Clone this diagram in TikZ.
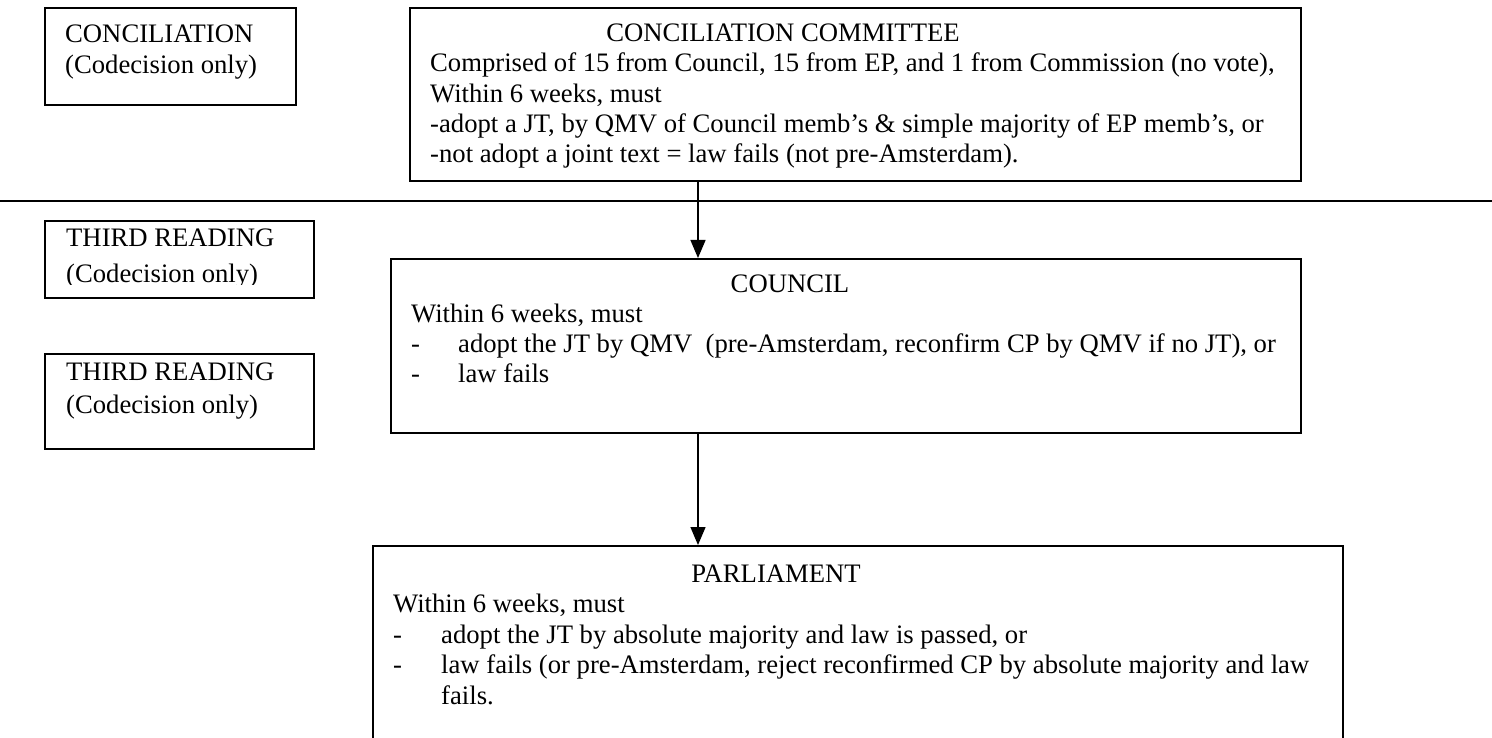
\documentclass[tikz,border=0pt]{standalone}
\usepackage{fontspec}
\setmainfont{Liberation Serif}
\usetikzlibrary{arrows.meta}
\begin{document}
\begin{tikzpicture}[x=1pt,y=-1pt,
  box/.style={draw=black, line width=1.6pt, inner sep=0pt, anchor=north west},
  txt/.style={anchor=base west, inner sep=0pt, font=\fontsize{26.67}{30}\selectfont},
  ttl/.style={anchor=base, inner sep=0pt, font=\fontsize{26.67}{30}\selectfont},
  arr/.style={line width=1.3pt, -{Triangle[length=18pt,width=15pt]}},
  sepline/.style={line width=1.6pt}]
\useasboundingbox (0,0) rectangle (1492,738);
% boxes
\node[box, minimum width=251pt, minimum height=97pt] (conc) at (44,7) {};
\node[box, minimum width=891pt, minimum height=173pt] (comm) at (409,7) {};
\node[box, minimum width=269pt, minimum height=77pt] (tr1) at (44,220) {};
\node[box, minimum width=269pt, minimum height=95pt] (tr2) at (44,353) {};
\node[box, minimum width=910pt, minimum height=174pt] (coun) at (390,258) {};
\node[box, minimum width=970pt, minimum height=193pt] (parl) at (372,545) {};
% separator
\coordinate (sepL) at (0,201);
\coordinate (sepR) at (1492,201);
\draw[sepline] (sepL) -- (sepR);
% arrows
\coordinate (ax) at (698,0);
\draw[arr] (comm.south -| ax) -- (coun.north -| ax);
\draw[arr] (coun.south -| ax) -- (parl.north -| ax);
% conciliation
\node[txt] (c1) at (65,43) {CONCILIATION};
\node[txt] (c2) at (65,74) {(Codecision only)};
% committee
\node[ttl] (m0) at (783,42) {CONCILIATION COMMITTEE};
\node[txt] (m1) at (430,72) {Comprised of 15 from Council, 15 from EP, and 1 from Commission (no vote),};
\node[txt] (m2) at (430,103) {Within 6 weeks, must};
\node[txt] (m3) at (430,133) {-adopt a JT, by QMV of Council memb’s \& simple majority of EP memb’s, or};
\node[txt] (m4) at (430,163) {-not adopt a joint text = law fails (not pre-Amsterdam).};
% third reading 1 (text cut off at the bottom)
\begin{scope}
\clip (44,220) rectangle (313,285);
\node[txt] (r1) at (66,247) {THIRD READING};
\node[txt] (r2) at (66,283) {(Codecision only)};
\end{scope}
% third reading 2
\node[txt] (s1) at (66,380) {THIRD READING};
\node[txt] (s2) at (66,413) {(Codecision only)};
% council
\node[ttl] (k0) at (790,292) {COUNCIL};
\node[txt] (k1) at (411,322) {Within 6 weeks, must};
\node[txt] (k2) at (411,352) {-};
\node[txt] (k3) at (458,352) {adopt the JT by QMV\ \ (pre-Amsterdam, reconfirm CP by QMV if no JT), or};
\node[txt] (k4) at (411,382) {-};
\node[txt] (k5) at (458,382) {law fails};
% parliament
\node[ttl] (p0) at (776,582) {PARLIAMENT};
\node[txt] (p1) at (393,612) {Within 6 weeks, must};
\node[txt] (p2) at (393,643) {-};
\node[txt] (p3) at (441,643) {adopt the JT by absolute majority and law is passed, or};
\node[txt] (p4) at (393,673) {-};
\node[txt] (p5) at (441,673) {law fails (or pre-Amsterdam, reject reconfirmed CP by absolute majority and law};
\node[txt] (p6) at (441,704) {fails.};
\end{tikzpicture}
\end{document}
